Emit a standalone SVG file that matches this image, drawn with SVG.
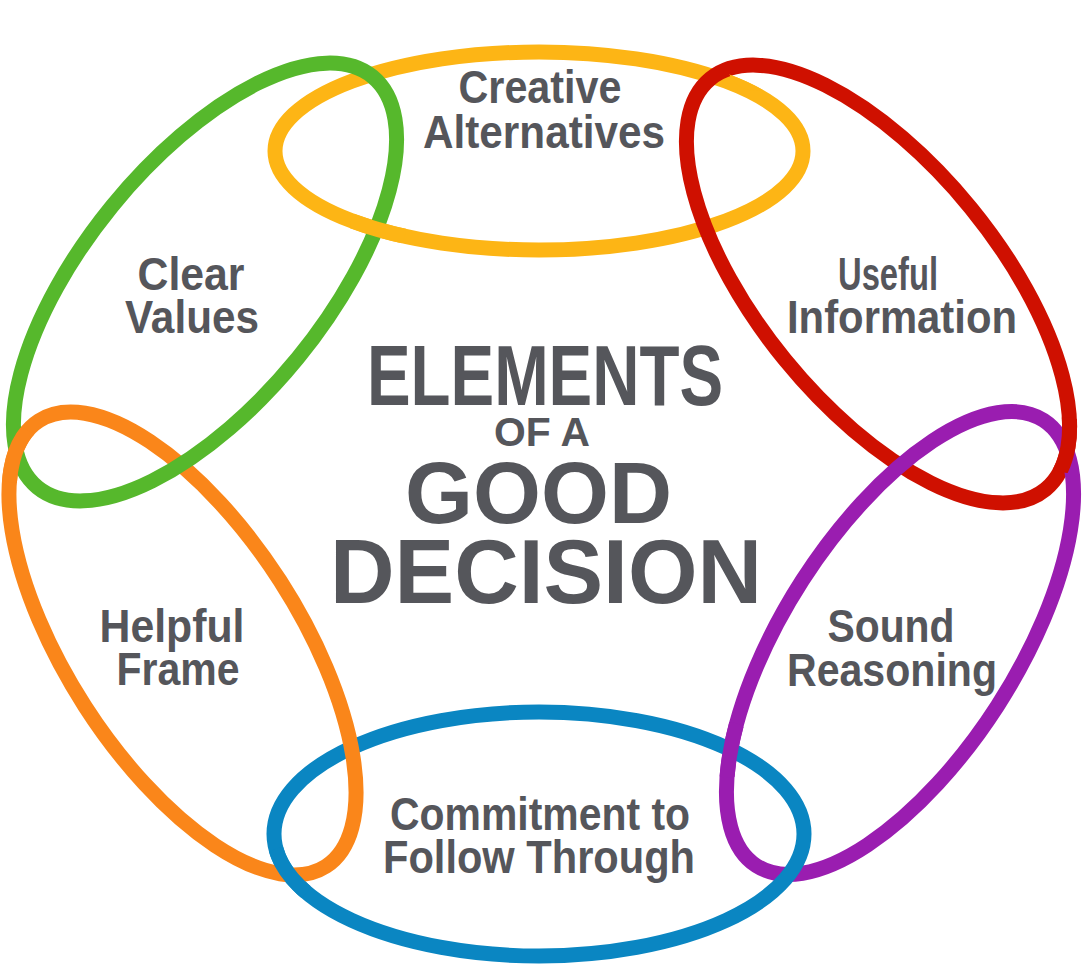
<svg xmlns="http://www.w3.org/2000/svg" width="1083" height="966" viewBox="0 0 1083 966">
<style>
.ring{fill:none;stroke-width:15}
.y{stroke:#fdb515}.g{stroke:#56b82c}.r{stroke:#cf1000}.p{stroke:#9a1db0}.b{stroke:#0a86c2}.o{stroke:#fa861a}
.lbl{font-family:"Liberation Sans",Arial,sans-serif;font-weight:bold;font-size:47px;fill:#55565b;text-anchor:middle}
.ttl{font-family:"Liberation Sans",Arial,sans-serif;font-weight:bold;fill:#55565b;text-anchor:middle}
</style>
<defs>
<ellipse id="eY" cx="539" cy="151" rx="264" ry="99"/>
<ellipse id="eB" cx="539" cy="834" rx="265" ry="122"/>
<ellipse id="eG" cx="0" cy="0" rx="265" ry="120" transform="translate(205 282) rotate(-50.8)"/>
<ellipse id="eR" cx="0" cy="0" rx="265" ry="120" transform="translate(878 284) rotate(50.8)"/>
<ellipse id="eO" cx="0" cy="0" rx="265" ry="116" transform="translate(182.5 643.5) rotate(57.2)"/>
<ellipse id="eP" cx="0" cy="0" rx="265" ry="116" transform="translate(900 643) rotate(-57.2)"/>
<clipPath id="cYG" clipPathUnits="userSpaceOnUse"><circle cx="378" cy="228" r="28"/></clipPath>
<clipPath id="cYR" clipPathUnits="userSpaceOnUse"><circle cx="755" cy="63" r="28"/></clipPath>
<clipPath id="cOG" clipPathUnits="userSpaceOnUse"><circle cx="15" cy="455" r="28"/></clipPath>
<clipPath id="cRP" clipPathUnits="userSpaceOnUse"><circle cx="1067" cy="445" r="28"/></clipPath>
<clipPath id="cBO" clipPathUnits="userSpaceOnUse"><circle cx="285" cy="875" r="28"/></clipPath>
<clipPath id="cPB" clipPathUnits="userSpaceOnUse"><circle cx="728" cy="750" r="28"/></clipPath>
</defs>
<rect width="1083" height="966" fill="#ffffff"/>
<g id="rings">
<use href="#eY" class="ring y"/>
<use href="#eR" class="ring r"/>
<use href="#eP" class="ring p"/>
<use href="#eB" class="ring b"/>
<use href="#eO" class="ring o"/>
<use href="#eG" class="ring g"/>
<g id="weave">
<use href="#eY" class="ring y" clip-path="url(#cYG)"/>
<use href="#eY" class="ring y" clip-path="url(#cYR)"/>
<use href="#eO" class="ring o" clip-path="url(#cOG)"/>
<use href="#eR" class="ring r" clip-path="url(#cRP)"/>
<use href="#eB" class="ring b" clip-path="url(#cBO)"/>
<use href="#eP" class="ring p" clip-path="url(#cPB)"/>
</g>
</g>
<g id="creative-alternatives">
<text class="lbl" x="540" y="103" textLength="163" lengthAdjust="spacingAndGlyphs">Creative</text>
<text class="lbl" x="544" y="148" textLength="242" lengthAdjust="spacingAndGlyphs">Alternatives</text>
</g>
<g id="clear-values">
<text class="lbl" x="191" y="290" textLength="107" lengthAdjust="spacingAndGlyphs">Clear</text>
<text class="lbl" x="192" y="333" textLength="134" lengthAdjust="spacingAndGlyphs">Values</text>
</g>
<g id="useful-information">
<text class="lbl" x="888" y="290" textLength="100" lengthAdjust="spacingAndGlyphs">Useful</text>
<text class="lbl" x="902" y="333" textLength="230" lengthAdjust="spacingAndGlyphs">Information</text>
</g>
<g id="helpful-frame">
<text class="lbl" x="172" y="642" textLength="145" lengthAdjust="spacingAndGlyphs">Helpful</text>
<text class="lbl" x="178" y="685" textLength="123" lengthAdjust="spacingAndGlyphs">Frame</text>
</g>
<g id="sound-reasoning">
<text class="lbl" x="891" y="642" textLength="127" lengthAdjust="spacingAndGlyphs">Sound</text>
<text class="lbl" x="892" y="686" textLength="210" lengthAdjust="spacingAndGlyphs">Reasoning</text>
</g>
<g id="commitment">
<text class="lbl" x="540" y="830" textLength="300" lengthAdjust="spacingAndGlyphs">Commitment to</text>
<text class="lbl" x="539" y="873" textLength="312" lengthAdjust="spacingAndGlyphs">Follow Through</text>
</g>
<g id="title">
<text class="ttl" x="545" y="405" font-size="85" textLength="356" lengthAdjust="spacingAndGlyphs">ELEMENTS</text>
<text class="ttl" x="542" y="446" font-size="40" textLength="96" lengthAdjust="spacingAndGlyphs">OF A</text>
<text class="ttl" x="538.5" y="523" font-size="87" textLength="267" lengthAdjust="spacingAndGlyphs">GOOD</text>
<text class="ttl" x="546" y="603" font-size="90" textLength="432" lengthAdjust="spacingAndGlyphs">DECISION</text>
</g>
</svg>
